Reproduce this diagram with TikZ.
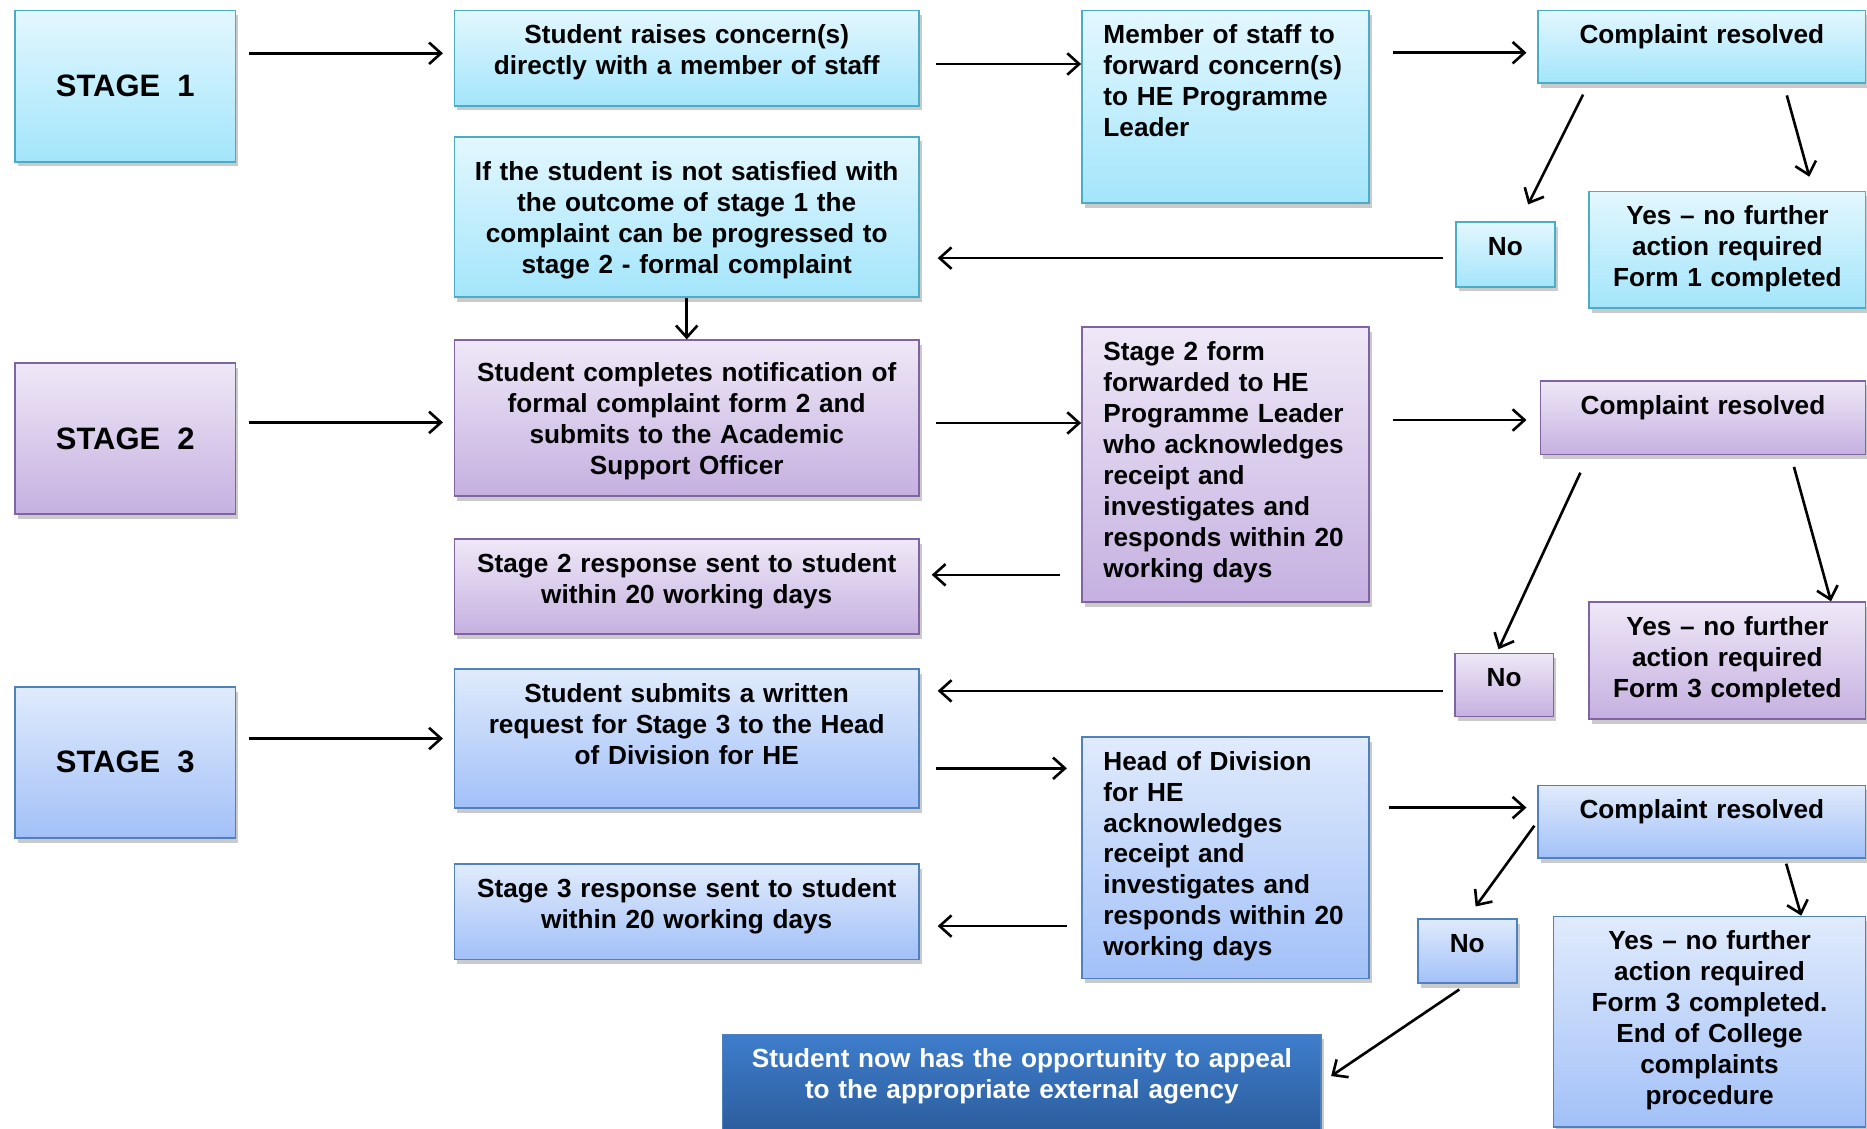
\documentclass[tikz,border=0pt]{standalone}
\usepackage{xcolor}
\usepackage{fontspec}
\setmainfont{Liberation Sans}
\usepackage{tikz}
\usetikzlibrary{arrows.meta,shadows}

\definecolor{oneTop}{HTML}{E3F7FE}
\definecolor{oneBot}{HTML}{A3E5FB}
\definecolor{oneLine}{HTML}{4BACC6}
\definecolor{twoTop}{HTML}{EFE8F7}
\definecolor{twoBot}{HTML}{C5B0E0}
\definecolor{twoLine}{HTML}{8064A2}
\definecolor{threeTop}{HTML}{E0EBFC}
\definecolor{threeBot}{HTML}{A2C0F8}
\definecolor{threeLine}{HTML}{4F81BD}
\definecolor{appealTop}{HTML}{3E7DCC}
\definecolor{appealBot}{HTML}{2C5E9E}

\tikzset{
  card/.style={draw, line width=.75pt, anchor=north west,
    drop shadow={shadow xshift=1.2pt, shadow yshift=-2pt, opacity=.35, fill=black!60},
    font=\bfseries\fontsize{11}{13}\selectfont},
  boxtext/.style 2 args={inner xsep=5pt, inner ysep=6pt, text height=8pt,
    text width=#1, text depth=#2, align=center},
  stagebox/.style={card, minimum width=92.5pt, minimum height=63.5pt, inner sep=0pt,
    font=\bfseries\fontsize{13}{15}\selectfont},
  one/.style={top color=oneTop, bottom color=oneBot, draw=oneLine},
  two/.style={top color=twoTop, bottom color=twoBot, draw=twoLine},
  three/.style={top color=threeTop, bottom color=threeBot, draw=threeLine},
  arr/.style={line width=1.1pt, -{Straight Barb[length=5pt,width=9pt]}}
}

\begin{document}
\begin{tikzpicture}[x=0.5pt, y=-0.5pt]
  \useasboundingbox (0,0) rectangle (1568,948);

  % stage 1
  \node[stagebox, one] (st1) at (12,8) {STAGE\ \ 1};
  \node[card, one, boxtext={185pt}{20pt}] (s1a) at (381,8)
       {Student raises concern(s)\\directly with a member of staff};
  \node[card, one, boxtext={185pt}{38.5pt}, inner ysep=10.5pt] (s1next) at (381,114)
       {If the student is not satisfied with\\the outcome of stage 1 the\\complaint can be progressed to\\stage 2 - formal complaint};
  \node[card, one, boxtext={102.5pt}{61pt}, inner xsep=9pt, align=left] (s1b) at (908,8)
       {Member of staff to\\forward concern(s)\\to HE Programme\\Leader};
  \node[card, one, boxtext={127.5pt}{10.5pt}] (s1r) at (1291,8) {Complaint resolved};
  \node[card, one, boxtext={31.5pt}{7pt}] (s1no) at (1222,186) {No};
  \node[card, one, boxtext={106pt}{29pt}] (s1yes) at (1334,160)
       {Yes – no further\\action required\\Form 1 completed};

  % stage 2
  \node[stagebox, two] (st2) at (12,304) {STAGE\ \ 2};
  \node[card, two, boxtext={185pt}{38.5pt}, inner ysep=9.5pt] (s2a) at (381,285)
       {Student completes notification of\\formal complaint form 2 and\\submits to the Academic\\Support Officer};
  \node[card, two, boxtext={185pt}{20pt}] (s2resp) at (381,452)
       {Stage 2 response sent to student\\within 20 working days};
  \node[card, two, boxtext={102.5pt}{95.5pt}, inner xsep=9pt, align=left] (s2b) at (908,274)
       {Stage 2 form\\forwarded to HE\\Programme Leader\\who acknowledges\\receipt and\\investigates and\\responds within 20\\working days};
  \node[card, two, boxtext={126.5pt}{11pt}] (s2r) at (1293,319) {Complaint resolved};
  \node[card, two, boxtext={31.5pt}{6.5pt}] (s2no) at (1221,548) {No};
  \node[card, two, boxtext={106pt}{29pt}] (s2yes) at (1334,505)
       {Yes – no further\\action required\\Form 3 completed};

  % stage 3
  \node[stagebox, three] (st3) at (12,576) {STAGE\ \ 3};
  \node[card, three, boxtext={185pt}{38.5pt}] (s3a) at (381,561)
       {Student submits a written\\request for Stage 3 to the Head\\of Division for HE};
  \node[card, three, boxtext={185pt}{20pt}] (s3resp) at (381,725)
       {Stage 3 response sent to student\\within 20 working days};
  \node[card, three, boxtext={102.5pt}{81.5pt}, inner xsep=9pt, align=left] (s3b) at (908,618)
       {Head of Division\\for HE\\acknowledges\\receipt and\\investigates and\\responds within 20\\working days};
  \node[card, three, boxtext={127.5pt}{10.5pt}] (s3r) at (1291,659) {Complaint resolved};
  \node[card, three, boxtext={31.5pt}{7pt}] (s3no) at (1190,771) {No};
  \node[card, three, boxtext={121pt}{68.5pt}] (s3yes) at (1304,769)
       {Yes – no further\\action required\\Form 3 completed.\\End of College\\complaints\\procedure};
  \node[card, top color=appealTop, bottom color=appealBot, draw=threeLine, text=white,
        boxtext={241.5pt}{20pt}] (appeal) at (606,868)
       {Student now has the opportunity to appeal\\to the appropriate external agency};

  % connectors stage 1
  \draw[arr, shorten <=5.5pt, shorten >=4.5pt] ([yshift=2pt]st1.east |- s1a.west) -- ([yshift=2pt]s1a.west);
  \draw[arr, shorten <=7pt] ([yshift=-2.5pt]s1a.east) -- ([yshift=-2.5pt]s1a.east -| s1b.west);
  \draw[arr, shorten <=9.5pt, shorten >=4.5pt] ([yshift=-2.5pt]s1b.east |- s1r.west) -- ([yshift=-2.5pt]s1r.west);
  \draw[arr, shorten <=5pt, shorten >=8pt] ([xshift=21.5pt]s1r.south west) -- ([xshift=6pt]s1no.north);
  \draw[arr, shorten <=5pt, shorten >=6pt] ([xshift=103.5pt]s1r.south west) -- ([xshift=36pt]s1yes.north);
  \draw[arr, shorten <=5pt, shorten >=7.5pt] ([yshift=-1.5pt]s1no.west) -- ([yshift=-1.5pt]s1no.west -| s1next.east);
  \draw[arr] (s1next.south) -- (s2a.north);

  % connectors stage 2
  \draw[arr, shorten <=5.5pt, shorten >=4.5pt] ([yshift=-1.75pt]st2.east |- s2a.west) -- ([yshift=-1.75pt]s2a.west);
  \draw[arr, shorten <=7pt] ([yshift=-2pt]s2a.east) -- ([yshift=-2pt]s2a.east -| s2b.west);
  \draw[arr, shorten <=9.5pt, shorten >=5.5pt] ([yshift=-1pt]s2b.east |- s2r.west) -- ([yshift=-1pt]s2r.west);
  \draw[arr, shorten <=9pt, shorten >=5pt] ([yshift=5pt]s2resp.east -| s2b.west) -- ([yshift=5pt]s2resp.east);
  \draw[arr, shorten <=8pt, shorten >=1.5pt] ([xshift=20.5pt]s2r.south west) -- ([xshift=-3pt]s2no.north);
  \draw[arr, shorten <=5pt] ([xshift=105.5pt]s2r.south west) -- ([xshift=43.5pt]s2yes.north);
  \draw[arr, shorten <=4.5pt, shorten >=7.5pt] ([yshift=-2.5pt]s2no.west) -- ([yshift=-2.5pt]s2no.west -| s3a.east);

  % connectors stage 3
  \draw[arr, shorten <=5.5pt, shorten >=4.5pt] (st3.east |- s3a.west) -- (s3a.west);
  \draw[arr, shorten <=7pt, shorten >=6pt] ([yshift=-12.5pt]s3a.east) -- ([yshift=-12.5pt]s3a.east -| s3b.west);
  \draw[arr, shorten <=8pt, shorten >=4.5pt] ([yshift=6pt]s3r.west -| s3b.east) -- ([yshift=6pt]s3r.west);
  \draw[arr, shorten <=6pt, shorten >=7.5pt] ([yshift=-6pt]s3resp.east -| s3b.west) -- ([yshift=-6pt]s3resp.east);
  \draw[arr, shorten <=2pt, shorten >=6pt] (s3r.west) -- (s3no.north);
  \draw[arr, shorten <=2pt] ([xshift=104pt]s3r.south west) -- ([xshift=38.5pt]s3yes.north);
  \draw[arr, shorten <=4pt, shorten >=4.5pt] (s3no.south) -- (appeal.east);
\end{tikzpicture}
\end{document}
